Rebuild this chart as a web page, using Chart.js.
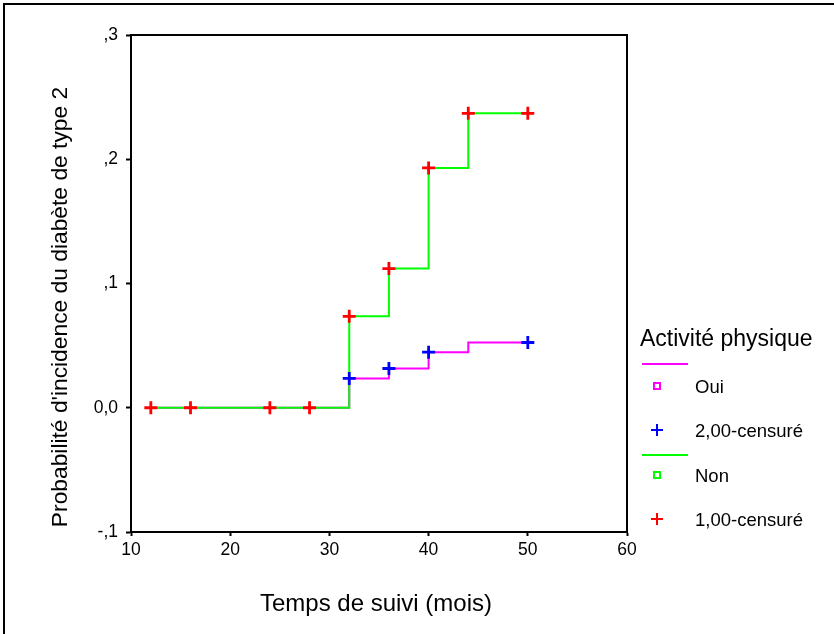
<!DOCTYPE html>
<html>
<head>
<meta charset="utf-8">
<script src="https://cdn.jsdelivr.net/npm/chart.js@4/dist/chart.umd.min.js"></script>
<style>
  html, body { margin: 0; padding: 0; background: #fff; }
  canvas { display: block; }
</style>
</head>
<body>
<canvas id="km" width="834" height="634"></canvas>
<script>
// Courbes d'incidence cumulée (Kaplan-Meier)
const tempsNon = [12, 32, 36, 40, 44, 50];
const incidenceNon = [0, 0.0736, 0.112, 0.193, 0.237, 0.237];
const tempsOui = [12, 32, 36, 40, 44, 50];
const incidenceOui = [0, 0.0236, 0.0316, 0.0447, 0.0525, 0.0525];

// observations censurées
const censNonTemps = [12, 16, 24, 28, 32, 36, 40, 44, 50];
const censNonValeurs = [0, 0, 0, 0, 0.0736, 0.112, 0.193, 0.237, 0.237];
const censOuiTemps = [32, 36, 40, 50];
const censOuiValeurs = [0.0236, 0.0316, 0.0447, 0.0525];

const xTitre = 'Temps de suivi (mois)';
const yTitre = "Probabilité d'incidence du diabète de type 2";
const legendeTitre = 'Activité physique';

const FONT = '"Liberation Sans", Arial, sans-serif';

function points(xs, ys) {
    return xs.map((x, i) => ({ x: x, y: ys[i] }));
}

function formatSpss(v) {
    let r = Math.round(v * 10);
    if (r === 0) return '0,0';
    return (r < 0 ? '-' : '') + ',' + Math.abs(r);
}

// cadre autour de la zone de tracé + cadre extérieur coupé
const cadrePlugin = {
    id: 'cadre',
    afterDatasetsDraw(chart) {
        const ctx = chart.ctx;
        const a = chart.chartArea;
        ctx.save();
        ctx.strokeStyle = '#000';
        ctx.lineWidth = 2;
        ctx.strokeRect(a.left, a.top, a.right - a.left, a.bottom - a.top);
        ctx.fillStyle = '#000';
        ctx.fillRect(3, 3, 831, 2);
        ctx.fillRect(3, 3, 2, 631);
        ctx.restore();
    }
};

// titres des axes (placés comme dans la sortie SPSS)
const titresPlugin = {
    id: 'titres',
    afterDraw(chart) {
        const ctx = chart.ctx;
        ctx.save();
        ctx.fillStyle = '#000';
        ctx.textAlign = 'center';
        ctx.textBaseline = 'middle';
        ctx.font = '24px ' + FONT;
        ctx.fillText(xTitre, 376, 604);
        ctx.translate(61, 307);
        ctx.rotate(-Math.PI / 2);
        ctx.font = '22.8px ' + FONT;
        ctx.fillText(yTitre, 0, 0);
        ctx.restore();
    }
};

// légende façon SPSS
const legendePlugin = {
    id: 'legendeSpss',
    afterDraw(chart) {
        const ctx = chart.ctx;
        ctx.save();
        ctx.fillStyle = '#000';
        ctx.textBaseline = 'middle';
        ctx.font = '23px ' + FONT;
        ctx.fillText(legendeTitre, 640, 340);

        ctx.font = '18.5px ' + FONT;
        const entrees = [
            { type: 'ligne', couleur: '#ff00ff', y: 364 },
            { type: 'carre', couleur: '#ff00ff', y: 386, texte: 'Oui' },
            { type: 'plus', couleur: '#0000ff', y: 430, texte: '2,00-censuré' },
            { type: 'ligne', couleur: '#00ff00', y: 455 },
            { type: 'carre', couleur: '#00ff00', y: 475, texte: 'Non' },
            { type: 'plus', couleur: '#ff0000', y: 519, texte: '1,00-censuré' }
        ];
        for (let e of entrees) {
            ctx.strokeStyle = e.couleur;
            ctx.lineWidth = 2;
            if (e.type === 'ligne') {
                ctx.beginPath();
                ctx.moveTo(642, e.y);
                ctx.lineTo(688, e.y);
                ctx.stroke();
            } else if (e.type === 'carre') {
                ctx.strokeRect(654, e.y - 3, 6, 6);
            } else {
                ctx.beginPath();
                ctx.moveTo(651, e.y);
                ctx.lineTo(663, e.y);
                ctx.moveTo(657, e.y - 6);
                ctx.lineTo(657, e.y + 6);
                ctx.stroke();
            }
            if (e.texte) {
                ctx.fillStyle = '#000';
                ctx.fillText(e.texte, 695, e.y + 2);
            }
        }
        ctx.restore();
    }
};

const ctx = document.getElementById('km');
new Chart(ctx, {
    type: 'line',
    data: {
        datasets: [
            {
                label: '1,00-censuré',
                data: points(censNonTemps, censNonValeurs),
                showLine: false,
                pointStyle: 'cross',
                pointRadius: 6.5,
                borderColor: '#ff0000',
                pointBorderWidth: 2.8
            },
            {
                label: '2,00-censuré',
                data: points(censOuiTemps, censOuiValeurs),
                showLine: false,
                pointStyle: 'cross',
                pointRadius: 6.5,
                borderColor: '#0000ff',
                pointBorderWidth: 2.8
            },
            {
                label: 'Non',
                data: points(tempsNon, incidenceNon),
                stepped: 'before',
                borderColor: '#00ff00',
                borderWidth: 2,
                pointRadius: 0,
                fill: false
            },
            {
                label: 'Oui',
                data: points(tempsOui, incidenceOui),
                stepped: 'before',
                borderColor: '#ff00ff',
                borderWidth: 2,
                pointRadius: 0,
                fill: false
            }
        ]
    },
    options: {
        responsive: false,
        animation: false,
        layout: {
            padding: { left: 40, right: 207, top: 35, bottom: 0 }
        },
        plugins: {
            legend: { display: false },
            tooltip: { enabled: false },
            title: { display: false }
        },
        scales: {
            x: {
                type: 'linear',
                min: 10,
                max: 60,
                afterFit: function (scale) { scale.height = 102; },
                ticks: {
                    stepSize: 10,
                    color: '#000',
                    padding: 4,
                    font: { family: FONT, size: 17.5 }
                },
                grid: {
                    drawOnChartArea: false,
                    drawTicks: true,
                    tickLength: 4,
                    color: '#000',
                    tickWidth: 2
                },
                border: { display: true, color: '#000', width: 2 },
                title: { display: false }
            },
            y: {
                type: 'linear',
                min: -0.1,
                max: 0.3,
                afterFit: function (scale) { scale.width = 91; },
                ticks: {
                    stepSize: 0.1,
                    color: '#000',
                    padding: 8,
                    font: { family: FONT, size: 17.5 },
                    callback: function (v) { return formatSpss(v); }
                },
                grid: {
                    drawOnChartArea: false,
                    drawTicks: true,
                    tickLength: 5,
                    color: '#000',
                    tickWidth: 2
                },
                border: { display: true, color: '#000', width: 2 },
                title: { display: false }
            }
        }
    },
    plugins: [cadrePlugin, titresPlugin, legendePlugin]
});
</script>
</body>
</html>
